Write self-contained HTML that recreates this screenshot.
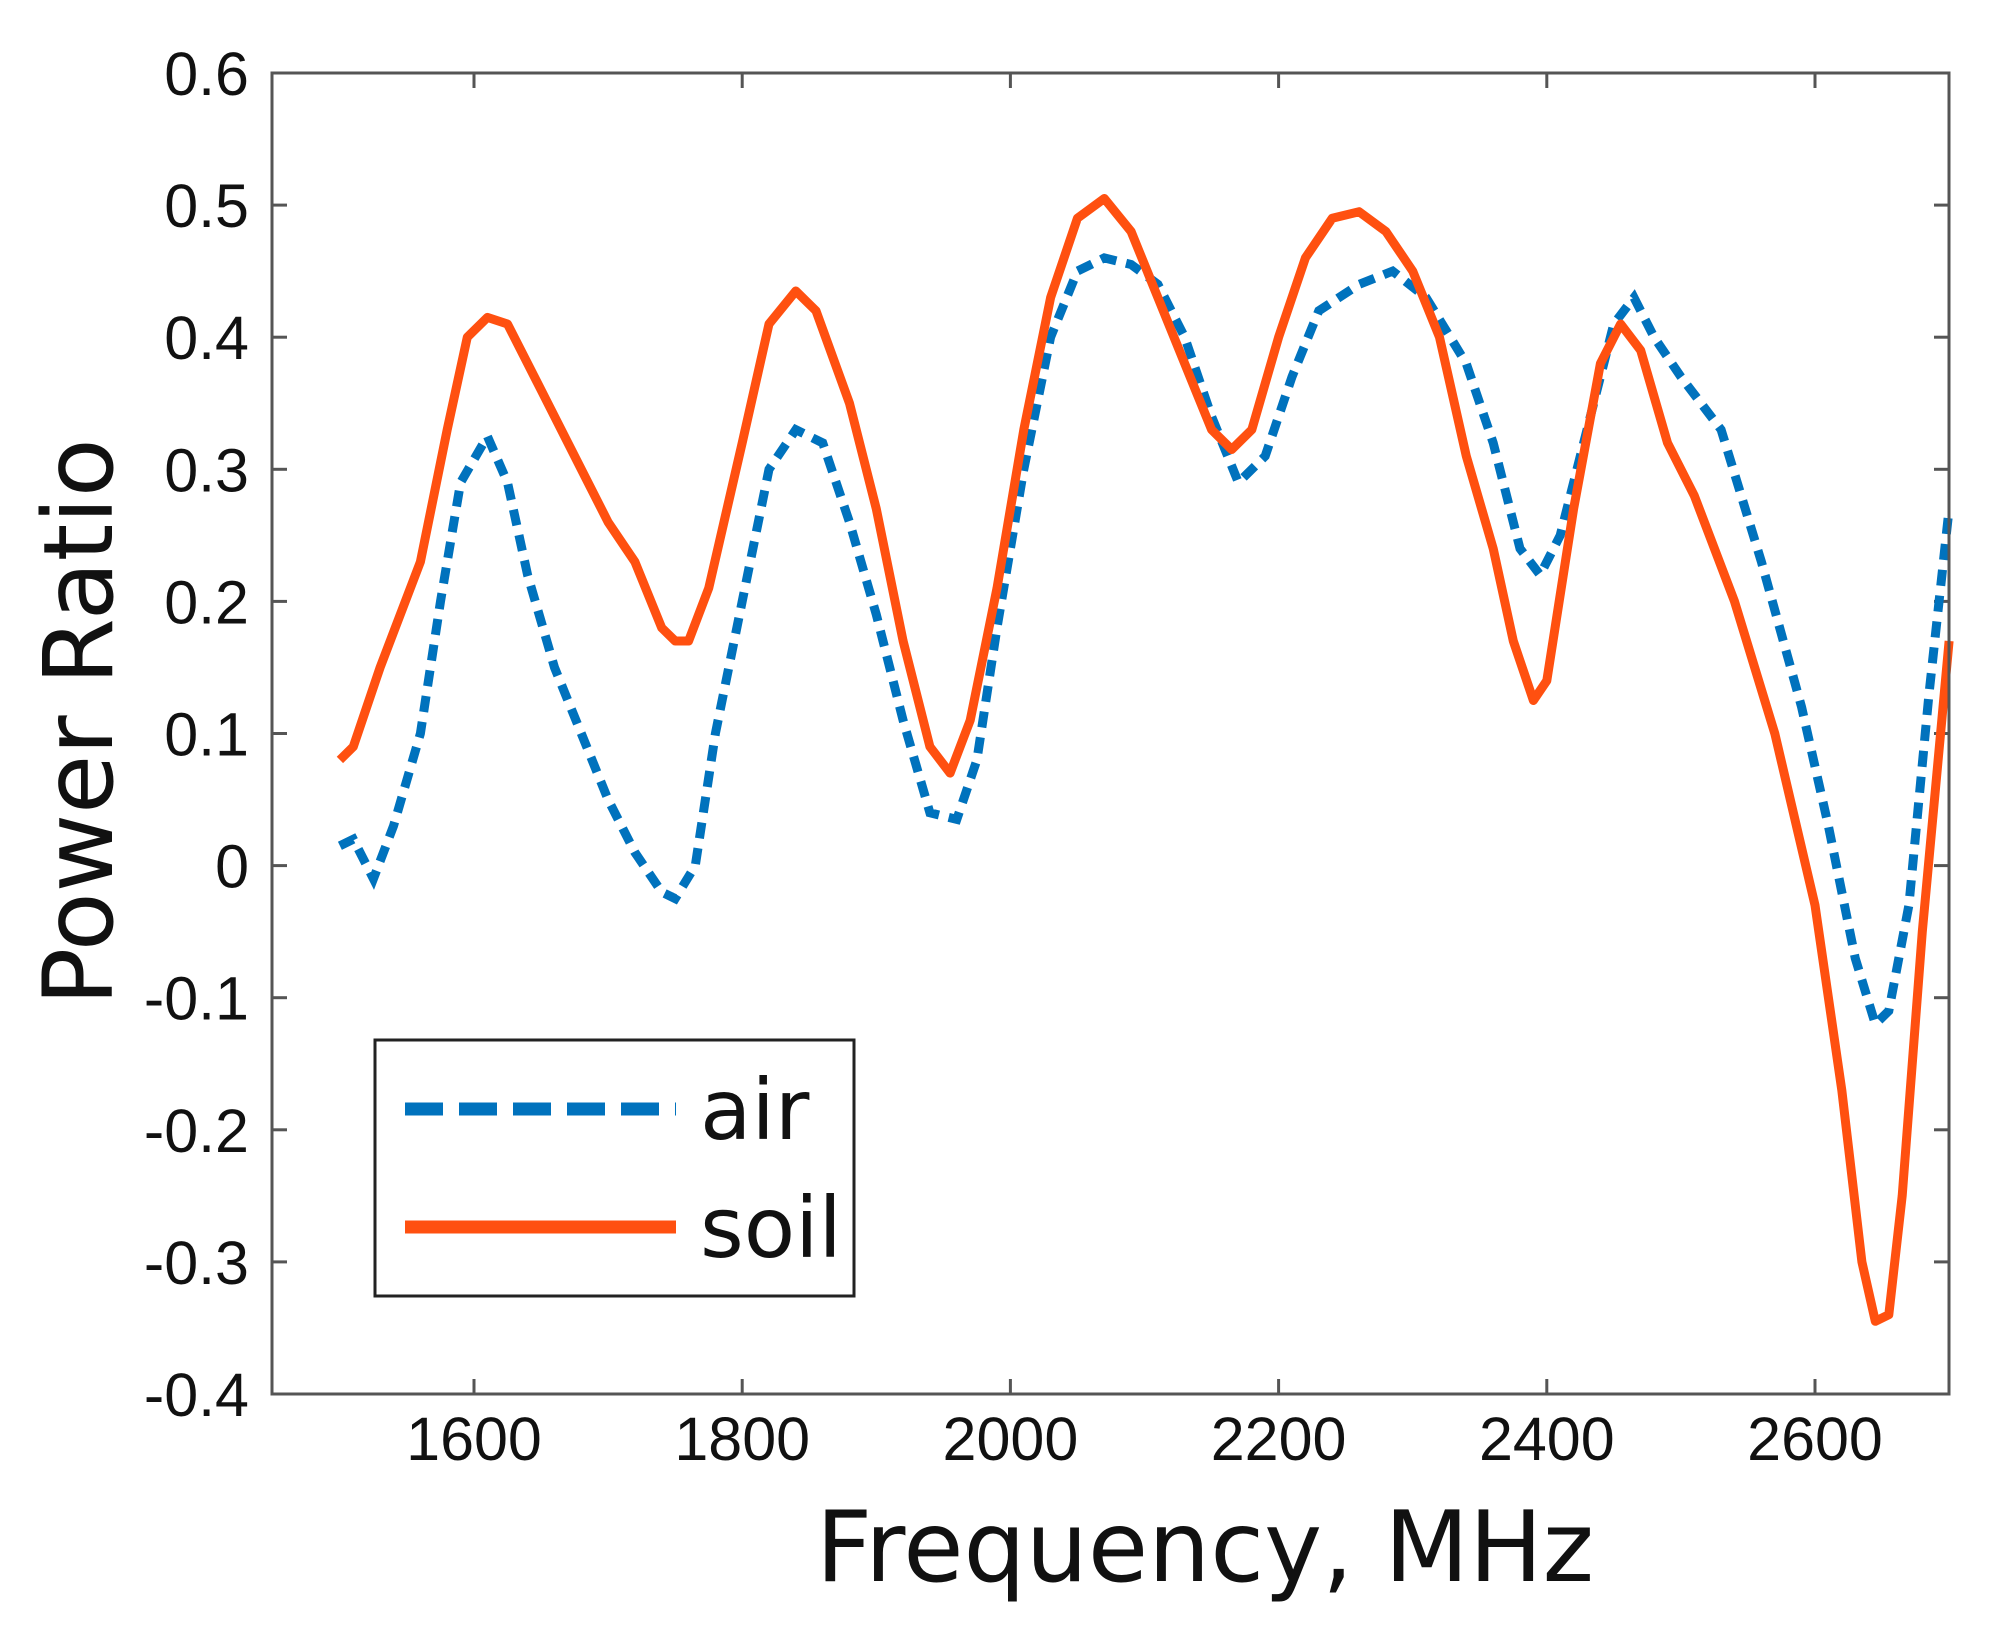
<!DOCTYPE html>
<html><head><meta charset="utf-8"><style>
html,body{margin:0;padding:0;background:#fff;width:2008px;height:1637px;overflow:hidden}
</style></head><body>
<svg id="s" width="2008" height="1637" viewBox="0 0 2008 1637" xmlns="http://www.w3.org/2000/svg">
<rect width="2008" height="1637" fill="#fff"/>
<g id="ticks" stroke="#555" stroke-width="3"></g>
<g id="lab" font-family="Liberation Sans, sans-serif" font-size="61" fill="#111"></g>
<polyline id="air" fill="none" stroke="#0072BD" stroke-width="9" stroke-dasharray="16 10"/>
<polyline id="soil" fill="none" stroke="#FF5010" stroke-width="9" stroke-linejoin="round"/>
<rect x="272" y="73" width="1677" height="1321" fill="none" stroke="#555" stroke-width="3"/>
<rect x="375" y="1040" width="479" height="256" fill="#fff" stroke="#222" stroke-width="3"/>
<line x1="405" y1="1109" x2="676" y2="1109" stroke="#0072BD" stroke-width="13" stroke-dasharray="38 16"/>
<line x1="405" y1="1227" x2="676" y2="1227" stroke="#FF5010" stroke-width="13"/>
<text x="700" y="1139" font-family="DejaVu Sans, sans-serif" font-size="84" fill="#111">air</text>
<text x="700" y="1257" font-family="DejaVu Sans, sans-serif" font-size="84" fill="#111">soil</text>
<text x="1205" y="1581" text-anchor="middle" font-family="DejaVu Sans, sans-serif" font-size="98" fill="#111">Frequency, MHz</text>
<text transform="translate(112,722) rotate(-90)" text-anchor="middle" font-family="DejaVu Sans, sans-serif" font-size="96" fill="#111">Power Ratio</text>
</svg>
<script>
var X=function(f){return 1.341*f-1671.6},Y=function(v){return 865.6-1321*v};
var soil=[1500,0.08,1510,0.09,1530,0.15,1560,0.23,1580,0.33,1595,0.40,1610,0.415,1625,0.41,1650,0.36,1680,0.30,1700,0.26,1720,0.23,1740,0.18,1750,0.17,1760,0.17,1775,0.21,1800,0.32,1820,0.41,1840,0.435,1855,0.42,1880,0.35,1900,0.27,1920,0.17,1940,0.09,1955,0.07,1970,0.11,1990,0.21,2010,0.33,2030,0.43,2050,0.49,2070,0.505,2090,0.48,2110,0.43,2130,0.38,2150,0.33,2165,0.315,2180,0.33,2200,0.40,2220,0.46,2240,0.49,2260,0.495,2280,0.48,2300,0.45,2320,0.40,2340,0.31,2360,0.24,2375,0.17,2390,0.125,2400,0.14,2420,0.27,2440,0.38,2455,0.41,2470,0.39,2490,0.32,2510,0.28,2540,0.20,2570,0.10,2600,-0.03,2620,-0.17,2635,-0.30,2645,-0.345,2655,-0.34,2665,-0.25,2680,-0.05,2700,0.17];
var air=[1500,0.015,1510,0.02,1525,-0.01,1540,0.03,1560,0.10,1575,0.20,1590,0.29,1610,0.325,1625,0.29,1640,0.22,1660,0.15,1680,0.10,1700,0.05,1720,0.01,1740,-0.02,1750,-0.025,1765,0.00,1780,0.10,1800,0.20,1820,0.30,1840,0.33,1860,0.32,1880,0.26,1900,0.19,1920,0.11,1940,0.04,1960,0.035,1975,0.08,1990,0.18,2010,0.30,2030,0.40,2050,0.45,2070,0.46,2090,0.455,2110,0.44,2130,0.40,2150,0.34,2170,0.29,2190,0.31,2210,0.37,2230,0.42,2260,0.44,2285,0.45,2310,0.43,2340,0.38,2360,0.32,2380,0.24,2395,0.22,2410,0.25,2430,0.33,2450,0.41,2465,0.43,2480,0.40,2500,0.37,2530,0.33,2560,0.23,2590,0.12,2610,0.03,2630,-0.07,2645,-0.12,2655,-0.11,2670,-0.03,2685,0.13,2700,0.27];
function pts(a){var s=[];for(var i=0;i<a.length;i+=2)s.push(X(a[i]).toFixed(1)+','+Y(a[i+1]).toFixed(1));return s.join(' ')}
document.getElementById('soil').setAttribute('points',pts(soil));
document.getElementById('air').setAttribute('points',pts(air));
var t='',l='';
for(var k=-4;k<=6;k++){var v=k/10,y=Y(v);
 t+='<line x1="272" y1="'+y+'" x2="287" y2="'+y+'"/><line x1="1934" y1="'+y+'" x2="1949" y2="'+y+'"/>';
 var s=k==0?'0':(v<0?'-':'')+'0.'+Math.abs(k);
 l+='<text x="249" y="'+(y+22)+'" text-anchor="end">'+s+'</text>';}
for(var f=1600;f<=2600;f+=200){var x=X(f);
 t+='<line x1="'+x+'" y1="1394" x2="'+x+'" y2="1379"/><line x1="'+x+'" y1="73" x2="'+x+'" y2="88"/>';
 l+='<text x="'+x+'" y="1460" text-anchor="middle">'+f+'</text>';}
document.getElementById('ticks').innerHTML=t;
document.getElementById('lab').innerHTML=l;
</script>
</body></html>
